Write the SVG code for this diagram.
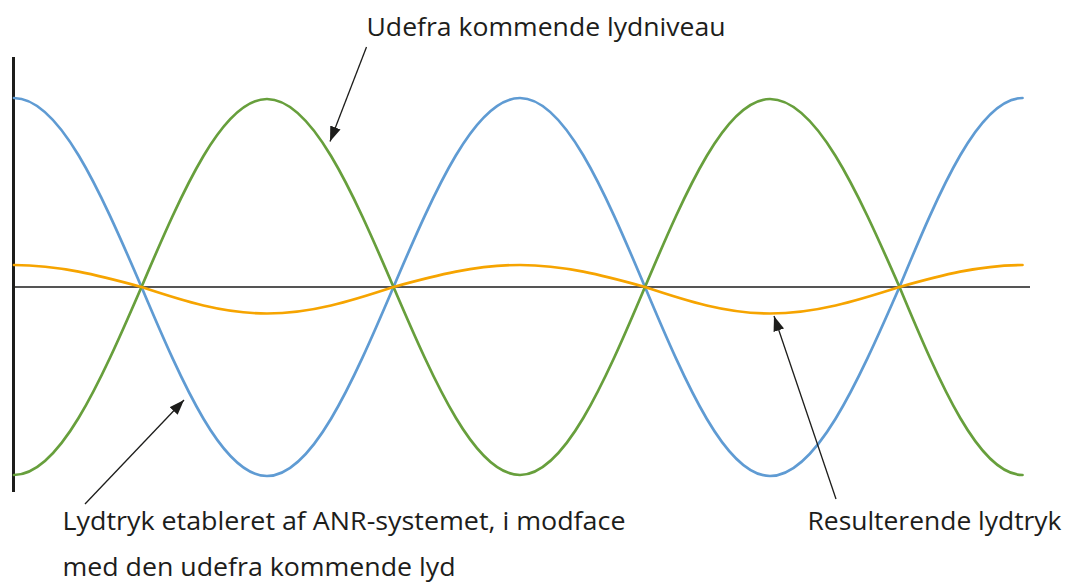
<svg xmlns="http://www.w3.org/2000/svg" width="1066" height="583" viewBox="0 0 1066 583">
<style>
.curve{fill:none;stroke-width:2.7;stroke-linecap:round}
.blue{stroke:#5F9BD3}
.green{stroke:#679F3C}
.orange{stroke:#F6A400}
.lbl{font-family:"Open Sans","Liberation Sans",sans-serif;font-size:25px;fill:#1d1d1b}
.conn{stroke:#1d1d1b;stroke-width:1.3;fill:none}
</style>
<defs>
<marker id="ah" markerUnits="userSpaceOnUse" markerWidth="16" markerHeight="11" refX="15" refY="5.5" orient="auto">
<path d="M0,0 L15,5.5 L0,11 z" fill="#1d1d1b"/>
</marker>
</defs>
<rect width="1066" height="583" fill="#ffffff"/>
<g id="axes">
<line x1="13" y1="287" x2="1030" y2="287" stroke="#555555" stroke-width="2"/>
<line x1="13.5" y1="57" x2="13.5" y2="492" stroke="#1d1d1b" stroke-width="3"/>
</g>
<g id="curve-blue">
<path class="curve blue" d="M14,98 C58.75,98 98.88,187.76 141.5,287 C183.45,386.24 222.95,476 267,476 C311.4,476 351.21,386.24 393.5,287 C435.79,187.76 475.6,98 520,98 C563.88,98 603.21,187.76 645,287 C686.79,386.24 726.13,476 770,476 C815.45,476 856.21,386.24 899.5,287 C940.62,187.76 979.33,98 1022.5,98"/>
</g>
<g id="curve-green">
<path class="curve green" d="M14,475 C58.75,475 98.88,385.7 141.5,287 C183.45,188.3 222.95,99 267,99 C311.4,99 351.21,188.3 393.5,287 C435.79,385.7 475.6,475 520,475 C563.88,475 603.21,385.7 645,287 C686.79,188.3 726.13,99 770,99 C815.45,99 856.21,188.3 899.5,287 C940.62,385.7 979.33,475 1022.5,475"/>
</g>
<g id="curve-orange">
<path class="curve orange" d="M14,265 C58.75,265 98.88,275.45 141.5,287 C183.45,300.9 222.95,313.5 267,313.5 C311.4,313.5 351.21,300.9 393.5,287 C435.79,275.45 475.6,265 520,265 C563.88,265 603.21,275.45 645,287 C686.79,300.9 726.13,313.5 770,313.5 C815.45,313.5 856.21,300.9 899.5,287 C940.62,275.45 979.33,265 1022.5,265"/>
</g>
<g id="connectors">
<line class="conn" x1="366.5" y1="47" x2="330" y2="141.5" marker-end="url(#ah)"/>
<line class="conn" x1="85" y1="504" x2="184" y2="400" marker-end="url(#ah)"/>
<line class="conn" x1="836" y1="499" x2="774" y2="316" marker-end="url(#ah)"/>
</g>
<g id="label-top">
<text class="lbl" x="366.5" y="36" textLength="359" lengthAdjust="spacingAndGlyphs">Udefra kommende lydniveau</text>
</g>
<g id="label-anr">
<text class="lbl" x="62.5" y="530" textLength="563" lengthAdjust="spacingAndGlyphs">Lydtryk etableret af ANR-systemet, i modface</text>
<text class="lbl" x="62.5" y="576" textLength="393" lengthAdjust="spacingAndGlyphs">med den udefra kommende lyd</text>
</g>
<g id="label-result">
<text class="lbl" x="807.5" y="530" textLength="254" lengthAdjust="spacingAndGlyphs">Resulterende lydtryk</text>
</g>
</svg>
